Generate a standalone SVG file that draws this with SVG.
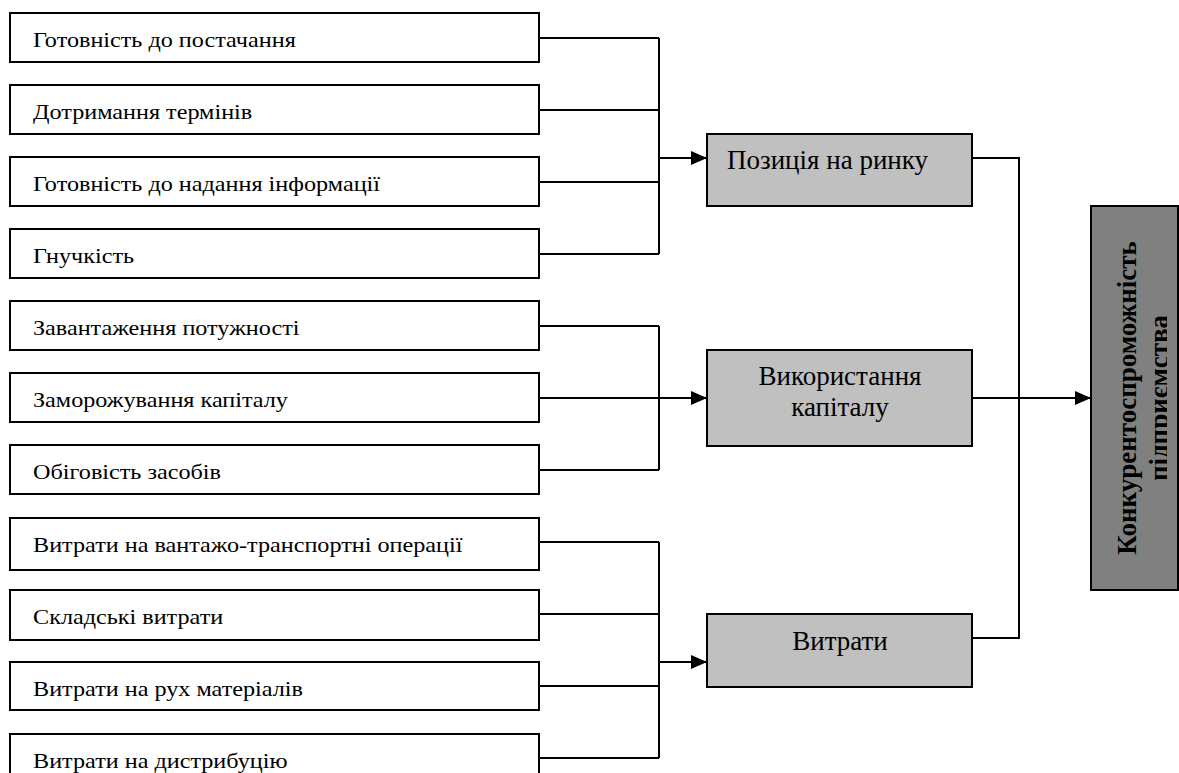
<svg xmlns="http://www.w3.org/2000/svg" width="1179" height="773" viewBox="0 0 1179 773">
<style>
.f{fill:#fff;stroke:#000;stroke-width:2}
.m{fill:#c0c0c0;stroke:#000;stroke-width:2}
.r{fill:#808080;stroke:#000;stroke-width:2}
.t{font-family:"Liberation Serif","Times New Roman",serif;font-size:22px;fill:#000}
.tm{font-family:"Liberation Serif","Times New Roman",serif;font-size:27px;fill:#000}
.b{font-family:"Liberation Serif","Times New Roman",serif;font-size:27px;font-weight:bold;fill:#000}
.c{fill:none;stroke:#000;stroke-width:2}
</style>
<defs>
<marker id="ah" markerWidth="16" markerHeight="14" refX="16" refY="7" orient="auto" markerUnits="userSpaceOnUse">
<path d="M0,0 L16,7 L0,14 Z" fill="#000"/>
</marker>
<clipPath id="cl"><rect x="1092" y="207" width="75" height="382"/></clipPath>
</defs>
<g id="connectors">
<path class="c" d="M539,38 H659 M539,110 H659 M539,182 H659 M539,254 H659 M659,38 V254"/>
<path class="c" d="M659,158 H707" marker-end="url(#ah)"/>
<path class="c" d="M539,326 H659 M539,398 H659 M539,470 H659 M659,326 V470"/>
<path class="c" d="M659,398 H707" marker-end="url(#ah)"/>
<path class="c" d="M539,542 H659 M539,614 H659 M539,686 H659 M539,758 H659 M659,542 V758"/>
<path class="c" d="M659,662 H707" marker-end="url(#ah)"/>
<path class="c" d="M972,158 H1019 V638 H972"/>
<path class="c" d="M972,398 H1091" marker-end="url(#ah)"/>
</g>
<g id="n1"><rect class="f" x="10" y="13" width="529" height="49"/><text class="t" transform="translate(33,47) scale(1.1,1)">Готовність до постачання</text></g>
<g id="n2"><rect class="f" x="10" y="85" width="529" height="49"/><text class="t" transform="translate(33,119) scale(1.1,1)">Дотримання термінів</text></g>
<g id="n3"><rect class="f" x="10" y="157" width="529" height="49"/><text class="t" transform="translate(33,191) scale(1.1,1)">Готовність до надання інформації</text></g>
<g id="n4"><rect class="f" x="10" y="229" width="529" height="49"/><text class="t" transform="translate(33,263) scale(1.1,1)">Гнучкість</text></g>
<g id="n5"><rect class="f" x="10" y="301" width="529" height="49"/><text class="t" transform="translate(33,335) scale(1.1,1)">Завантаження потужності</text></g>
<g id="n6"><rect class="f" x="10" y="373" width="529" height="49"/><text class="t" transform="translate(33,407) scale(1.1,1)">Заморожування капіталу</text></g>
<g id="n7"><rect class="f" x="10" y="445" width="529" height="49"/><text class="t" transform="translate(33,479) scale(1.1,1)">Обіговість засобів</text></g>
<g id="n8"><rect class="f" x="10" y="518" width="529" height="52"/><text class="t" transform="translate(33,552) scale(1.1,1)">Витрати на вантажо-транспортні операції</text></g>
<g id="n9"><rect class="f" x="10" y="590" width="529" height="50"/><text class="t" transform="translate(33,624) scale(1.1,1)">Складські витрати</text></g>
<g id="n10"><rect class="f" x="10" y="662" width="529" height="48"/><text class="t" transform="translate(33,696) scale(1.1,1)">Витрати на рух матеріалів</text></g>
<g id="n11"><rect class="f" x="10" y="734" width="529" height="60"/><text class="t" transform="translate(33,768) scale(1.1,1)">Витрати на дистрибуцію</text></g>
<g id="m1"><rect class="m" x="707" y="134" width="265" height="72"/><text class="tm" x="727" y="169">Позиція на ринку</text></g>
<g id="m2"><rect class="m" x="707" y="350" width="265" height="96"/><text class="tm" x="840" y="385" text-anchor="middle">Використання</text><text class="tm" x="840" y="416" text-anchor="middle">капіталу</text></g>
<g id="m3"><rect class="m" x="707" y="614" width="265" height="73"/><text class="tm" x="840" y="650" text-anchor="middle">Витрати</text></g>
<g id="res"><rect class="r" x="1091" y="206" width="87" height="384"/>
<g clip-path="url(#cl)">
<text class="b" text-anchor="middle" transform="translate(1136,398) rotate(-90)">Конкурентоспроможність</text>
<text class="b" text-anchor="middle" transform="translate(1168,398) rotate(-90)">підприємства</text>
</g></g>
</svg>
